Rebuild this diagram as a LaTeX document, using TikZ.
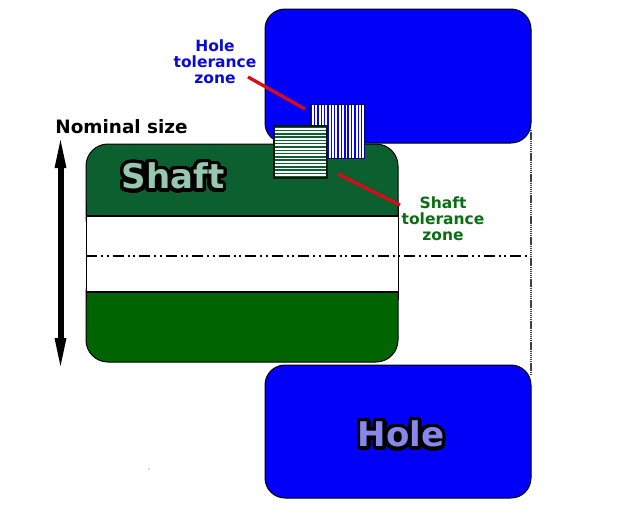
\documentclass[tikz,border=0pt]{standalone}
\usepackage{fontspec}
\setmainfont{DejaVu Sans}
\usepackage{contour}
\contournumber{48}
\definecolor{holeblue}{RGB}{0,0,250}
\definecolor{shafttop}{RGB}{12,96,48}
\definecolor{shaftlow}{RGB}{0,100,0}
\definecolor{labelblue}{RGB}{10,10,215}
\definecolor{labelgreen}{RGB}{10,110,20}
\definecolor{redline}{RGB}{220,10,25}
\tikzset{
  holebody/.style={fill=holeblue,draw=black,line width=1pt,rounded corners=20pt},
  leader/.style={draw=redline,line width=3.3pt},
  lbl/.style={font=\bfseries\fontsize{15.5}{16}\selectfont,align=center,inner sep=0pt},
  bigname/.style={font=\bfseries\fontsize{34}{36}\selectfont,inner sep=0pt},
}
\begin{document}
\begin{tikzpicture}[x=1pt,y=-1pt]
\useasboundingbox (0,0) rectangle (621,512);
\fill[white] (0,0) rectangle (621,512);
% right wall
\draw[black!75,line width=1.5pt,dash pattern=on 1.4pt off .7pt] (531,130) -- (531,375);
% hole
\draw[holebody] (265,9) rectangle (531,143);
\draw[holebody] (265,365) rectangle (531,498);
% shaft
\draw[fill=shafttop,draw=black,line width=1pt,rounded corners=22pt] (86,144) -- (398,144) -- (398,240) -- (86,240) -- cycle;
\draw[fill=shaftlow,draw=black,line width=1pt,rounded corners=22pt] (86,270) -- (398,270) -- (398,362) -- (86,362) -- cycle;
\fill[white] (86,216) rectangle (398,292);
\draw[black,line width=1pt] (86,205) -- (86,300) (398,205) -- (398,300);
\draw[black,line width=1.8pt] (86,216) -- (398,216) (86,292) -- (398,292);
% centre line
\draw[black,line width=1.9pt,dash pattern=on 11pt off 4pt on 2pt off 3.5pt on 2pt off 4pt] (86,256) -- (530,256);
% tolerance zones
\fill[white] (310,104) rectangle (364,158);
\foreach \x in {0,...,15} \fill[holeblue] (310.4+\x*3.37,104) rectangle ++(1.5,54);
\draw[black!50!holeblue,line width=.9pt] (310,104) rectangle (364,158);
\fill[white] (274,126) rectangle (327,178);
\foreach \y in {0,...,15} \fill[shafttop] (274,126.4+\y*3.3) rectangle ++(53,1.5);
\draw[black!75!shafttop,line width=1.2pt] (274,126) rectangle (327,178);
% leaders
\coordinate (ha) at (248,77); \coordinate (hb) at (305,109);
\coordinate (sa) at (338,174); \coordinate (sb) at (400,205);
\draw[leader] (ha) -- (hb);
\draw[leader] (sa) -- (sb);
% arrow
\draw[line width=6pt,black] (60.5,160) -- (60.5,345);
\fill[black] (60.5,140) -- (66.5,168) -- (54.5,168) -- cycle;
\fill[black] (60.5,366) -- (66.5,338) -- (54.5,338) -- cycle;
% labels
\node[font=\bfseries\fontsize{18.4}{20}\selectfont,inner sep=0pt] (nom) at (121.5,126.5) {Nominal size};
\node[lbl,text=labelblue] (hz) at (215,62) {Hole\\tolerance\\zone};
\node[lbl,text=labelgreen] (sz) at (443,219) {Shaft\\tolerance\\zone};
\contourlength{3.5pt}
\node[bigname] (sn) at (173,178) {\contour{black}{\textcolor[RGB]{150,200,175}{Shaft}}};
\node[bigname] (hn) at (401,436) {\contour{black}{\textcolor[RGB]{135,135,235}{Hole}}};
\fill[black!60] (149,469) circle (.6pt);
\end{tikzpicture}
\end{document}
